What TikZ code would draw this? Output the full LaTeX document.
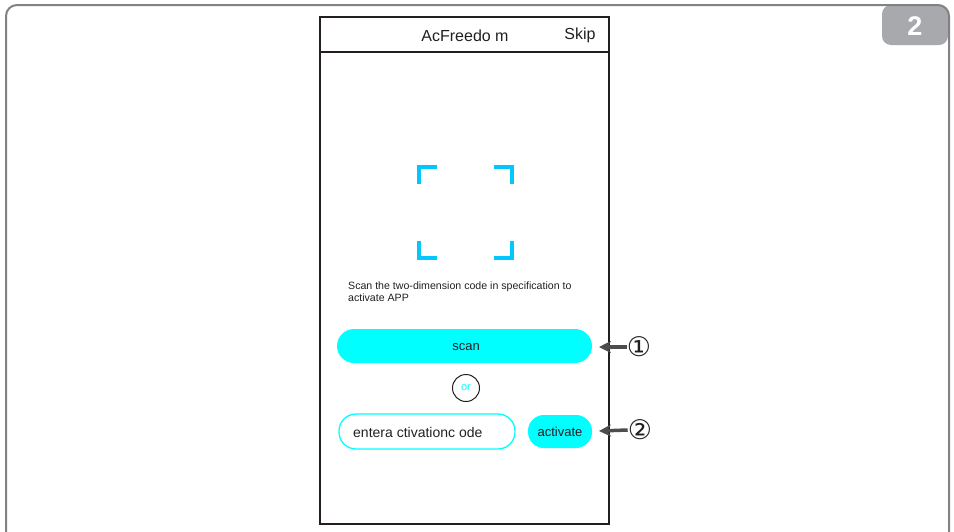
\documentclass[tikz,border=0pt]{standalone}
\usepackage{fontspec}
\setmainfont{Liberation Sans}
\newfontfamily\symfont{DejaVu Sans}
\usetikzlibrary{arrows.meta}
\definecolor{ink}{HTML}{231F20}
\definecolor{framegray}{HTML}{808285}
\definecolor{tabgray}{HTML}{A7A9AC}
\definecolor{aqua}{HTML}{00FFFF}
\definecolor{brk}{HTML}{00C8FF}
\definecolor{arrowgray}{HTML}{4D4D4F}
\tikzset{
  btn/.style={fill=aqua, rounded corners=17pt},
  bracket/.style={draw=brk, line width=4pt, line cap=butt, line join=miter},
  callout/.style={draw=arrowgray, line width=3.5pt, -{Stealth[length=12pt,width=12pt]}},
  num/.style={font=\symfont\fontsize{27}{29}\selectfont, text=ink, inner sep=0pt},
}
\begin{document}
\begin{tikzpicture}[x=1pt,y=-1pt]
\useasboundingbox (0,0) rectangle (954,531);
% tab
\fill[tabgray, rounded corners=9pt] (882,5) -- (948,5) -- (948,45) -- (882,45) -- cycle;
\node[text=white, font=\bfseries\fontsize{27}{28}\selectfont, inner sep=0pt] (tabnum) at (915,26) {2};
% outer frame
\draw[framegray, line width=2pt, rounded corners=11pt] (6,535) -- (6,5) -- (949,5) -- (949,535);
% phone
\draw[ink, line width=1.5pt] (320,17) rectangle (609,524);
\draw[ink, line width=1.5pt] (320,52) -- (609,52);
\node[text=ink, font=\fontsize{16}{18}\selectfont, inner sep=0pt] (title) at (465,36) {AcFreedo m};
\node[text=ink, font=\fontsize{16}{18}\selectfont, inner sep=0pt] (skip) at (580,35) {Skip};
% brackets
\draw[bracket] (419,184) -- (419,167) -- (437,167);
\draw[bracket] (494,167) -- (512,167) -- (512,184);
\draw[bracket] (419,241) -- (419,258) -- (437,258);
\draw[bracket] (494,258) -- (512,258) -- (512,241);
% description
\node[text=ink, font=\fontsize{10.6}{12}\selectfont, inner sep=0pt, anchor=north west, align=left] (desc) at (348,282) {Scan the two-dimension code in specification to\\activate APP};
% scan button
\fill[btn] (337,329) rectangle (592,363);
\node[text=ink, font=\fontsize{13}{15}\selectfont, inner sep=0pt] (scan) at (466,347) {scan};
\coordinate (scanR) at (599,347);
% or
\node[draw=ink, line width=1pt, circle, minimum size=27pt, inner sep=0pt, text=aqua, font=\fontsize{11}{12}\selectfont] (or) at (466,388) {or};
% input
\draw[aqua, line width=1.3pt, rounded corners=17pt] (339,414) rectangle (515,449);
\node[text=ink, font=\fontsize{14}{16}\selectfont, inner sep=0pt, anchor=west] (code) at (353,432) {entera ctivationc ode};
% activate
\fill[btn, rounded corners=16pt] (528,415) rectangle (592,448);
\node[text=ink, font=\fontsize{13}{15}\selectfont, inner sep=0pt] (act) at (560,432) {activate};
\coordinate (actR) at (599,431);
% callouts
\node[num] (n1) at (639,347) {①};
\node[num] (n2) at (640,430) {②};
\draw[callout] (n1.west) -- (scanR);
\draw[callout] (n2.west) -- (actR);
\end{tikzpicture}
\end{document}
